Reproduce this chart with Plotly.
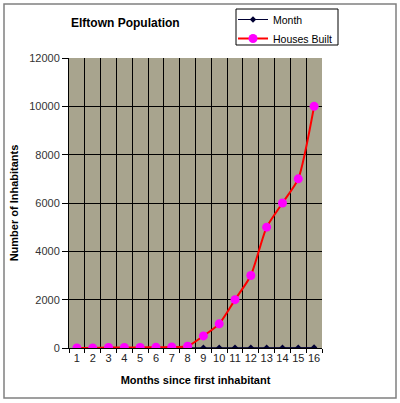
import plotly.graph_objects as go

months = list(range(1, 17))
month_values = list(range(1, 17))
houses_built = [0, 0, 20, 20, 25, 30, 40, 75, 500, 1000, 2000, 3000, 5000, 6000, 7000, 10000]
y_ticks = [0, 2000, 4000, 6000, 8000, 10000, 12000]

fig = go.Figure()
fig.add_trace(go.Scatter(
    x=months, y=month_values, name="Month", mode="lines+markers",
    line=dict(color="#000033", width=1),
    marker=dict(symbol="diamond", size=5, color="#000033"),
))
fig.add_trace(go.Scatter(
    x=months, y=houses_built, name="Houses Built", mode="lines+markers",
    line=dict(color="#FF0000", width=2, shape="spline", smoothing=0.6),
    marker=dict(symbol="circle", size=9, color="#FF00FF"),
))

W, H = 400, 403
L, T = 69, 58
R = W - 322
B = H - 348
pw, ph = W - L - R, H - T - B

def px_x(v):
    return (v - L) / pw

def px_y(v):
    return (H - B - v) / ph

fig.update_layout(
    width=W, height=H,
    margin=dict(l=L, r=R, t=T, b=B, autoexpand=False),
    paper_bgcolor="white",
    plot_bgcolor="#A8A48E",
    font=dict(family="Arial, Liberation Sans, sans-serif", size=11, color="#222"),
    title=dict(text="<b>Elftown Population</b>", xref="container", yref="container",
               x=71 / W, xanchor="left", y=1 - 23 / H, yanchor="middle",
               font=dict(size=12, color="#000")),
    legend=dict(x=px_x(233), y=px_y(5), xanchor="left", yanchor="top",
                bgcolor="rgba(0,0,0,0)", borderwidth=0,
                font=dict(size=10.5, color="#000"), tracegroupgap=0, itemwidth=30),
    showlegend=True,
    hovermode=False,
)
fig.update_xaxes(
    range=[0.5, 16.5], tickvals=months, ticktext=[str(m) for m in months],
    showgrid=False, zeroline=False, ticks="", showline=True, linecolor="#000", linewidth=1,
    tickfont=dict(size=11, color="#222"),
    minor=dict(tickvals=[m + 0.5 for m in [0] + months], showgrid=True, gridcolor="#000",
               gridwidth=1, ticks="outside", ticklen=4, tickcolor="#000"),
    title=dict(text="<b>Months since first inhabitant</b>", font=dict(size=11, color="#000"), standoff=13),
)
fig.update_yaxes(
    range=[0, 12000], tickvals=y_ticks, ticktext=[str(v) for v in y_ticks],
    showgrid=True, gridcolor="#000", gridwidth=1,
    zeroline=False, ticks="outside", ticklen=6, tickcolor="#000", showline=True,
    linecolor="#000", linewidth=1, tickfont=dict(size=11, color="#333"),
    title=dict(text="<b>Number of Inhabitants</b>", font=dict(size=11, color="#000"), standoff=8),
)
# outer chart border
fig.add_shape(type="rect", xref="paper", yref="paper",
              x0=px_x(4), x1=px_x(396), y0=px_y(398), y1=px_y(4),
              line=dict(color="#808080", width=1.5), layer="below")
# legend box
fig.add_shape(type="rect", xref="paper", yref="paper",
              x0=px_x(236), x1=px_x(338), y0=px_y(45), y1=px_y(9),
              line=dict(color="#000", width=1), fillcolor="white", layer="below")
fig.write_html("out.html", config={"displayModeBar": False},
               post_script="document.body.style.margin='0';")
